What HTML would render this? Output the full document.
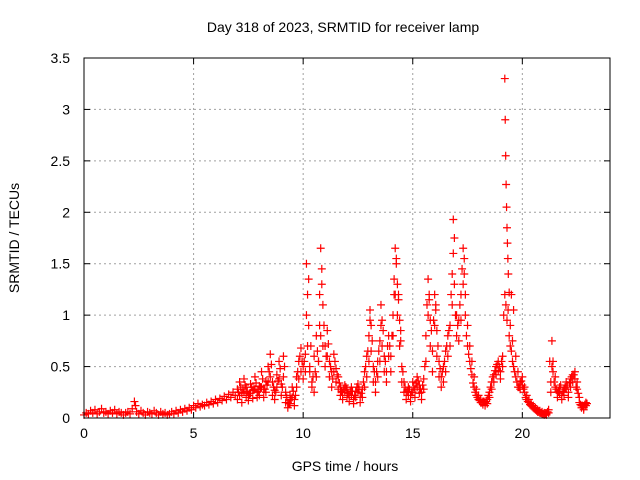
<!DOCTYPE html>
<html><head><meta charset="utf-8"><style>
body{margin:0;background:#fff}
svg{display:block;font-family:"Liberation Sans",sans-serif;font-size:14px}
</style></head><body>
<svg id="chart" width="640" height="480">
<text x="343" y="32" text-anchor="middle">Day 318 of 2023, SRMTID for receiver lamp</text>
<text x="345" y="471" text-anchor="middle">GPS time / hours</text>
<text transform="translate(19,238) rotate(-90)" text-anchor="middle">SRMTID / TECUs</text>
<g id="grid"></g>
<g id="ticks"></g>
<g id="marks"></g>
<rect x="84" y="58" width="526" height="360" fill="none" stroke="#000"/>
</svg>
<script>
const xTicks=[0,5,10,15,20];
const yTicks=[0,0.5,1,1.5,2,2.5,3,3.5];
const yTickLabels=["0","0.5","1","1.5","2","2.5","3","3.5"];
const xs=[0.0,0.1,0.2,0.3,0.4,0.5,0.6,0.7,0.8,0.9,1.0,1.1,1.2,1.3,1.4,1.5,1.6,1.7,1.8,1.9,2.0,2.1,2.2,2.3,2.35,2.4,2.5,2.6,2.7,2.8,2.9,3.0,3.1,3.2,3.3,3.4,3.5,3.6,3.7,3.8,3.9,4.0,4.1,4.2,4.3,4.4,4.5,4.6,4.7,4.8,4.9,5.0,5.1,5.2,5.3,5.4,5.5,5.6,5.7,5.8,5.9,6.0,6.1,6.2,6.3,6.4,6.5,6.6,6.7,6.8,6.9,7.0,7.1,7.2,7.3,7.4,7.5,7.6,7.7,7.8,7.9,8.0,8.1,8.2,8.3,8.4,8.5,8.6,8.7,8.8,8.9,9.0,9.1,9.2,9.3,9.4,9.5,9.6,9.7,9.8,9.9,10.0,10.1,10.15,10.2,10.25,10.3,10.4,10.5,10.6,10.7,10.75,10.8,10.85,10.9,11.0,11.1,11.2,11.3,11.4,11.5,11.6,11.7,11.8,11.9,12.0,12.1,12.2,12.3,12.4,12.5,12.6,12.7,12.8,12.9,13.0,13.05,13.1,13.2,13.3,13.4,13.5,13.55,13.6,13.7,13.8,13.9,14.0,14.1,14.15,14.2,14.25,14.3,14.35,14.4,14.45,14.5,14.6,14.7,14.8,14.9,15.0,15.1,15.2,15.3,15.4,15.5,15.6,15.7,15.75,15.8,15.9,16.0,16.05,16.1,16.2,16.3,16.4,16.5,16.6,16.7,16.8,16.85,16.9,17.0,17.1,17.2,17.3,17.35,17.4,17.5,17.6,17.7,17.8,17.9,18.0,18.1,18.2,18.3,18.4,18.5,18.6,18.7,18.8,18.9,19.0,19.1,19.2,19.22,19.24,19.26,19.28,19.3,19.32,19.34,19.36,19.4,19.45,19.5,19.55,19.6,19.7,19.8,19.9,20.0,20.1,20.2,20.3,20.4,20.5,20.6,20.7,20.8,20.9,21.0,21.1,21.2,21.3,21.35,21.4,21.5,21.6,21.7,21.8,21.9,22.0,22.1,22.2,22.3,22.4,22.5,22.6,22.7,22.8,22.9];
const ys=[.03,.05,.04,.07,.05,.08,.04,.06,.09,.05,.06,.04,.07,.05,.08,.04,.06,.05,.03,.05,.06,.04,.09,.16,.12,.06,.04,.07,.05,.03,.06,.05,.04,.07,.05,.03,.06,.04,.05,.03,.04,.06,.04,.07,.05,.08,.06,.09,.07,.10,.08,.12,.10,.14,.11,.13,.12,.15,.13,.16,.14,.18,.15,.19,.17,.21,.18,.23,.20,.25,.22,.28,.35,.24,.38,.30,.22,.33,.27,.40,.25,.31,.45,.28,.36,.50,.62,.35,.27,.42,.55,.33,.60,.25,.15,.22,.30,.18,.40,.55,.68,.50,.62,1.5,1.2,.9,.45,.35,.60,.80,.55,1.2,1.65,1.45,1.1,.70,.85,.55,.45,.62,.48,.40,.30,.25,.32,.28,.22,.30,.18,.26,.33,.20,.28,.45,.60,.80,1.05,.90,.50,.35,.55,.75,1.1,.95,.60,.45,.80,.60,1.0,1.35,1.65,1.55,1.30,1.15,.95,.75,.50,.35,.25,.30,.22,.35,.28,.40,.32,.25,.38,.80,1.35,1.15,.95,.65,1.2,1.05,.85,.55,.40,.50,.65,.80,.90,1.4,1.93,1.75,1.0,.95,1.2,1.65,1.55,1.2,.90,.70,.55,.40,.28,.22,.18,.16,.15,.18,.25,.35,.42,.50,.55,.45,.60,3.3,2.9,2.55,2.27,2.05,1.85,1.7,1.55,1.4,1.22,.9,1.2,.75,1.05,.6,.45,.35,.40,.30,.22,.18,.14,.12,.10,.08,.07,.06,.05,.04,.08,.35,.75,.55,.40,.25,.30,.22,.28,.35,.25,.38,.42,.45,.35,.20,.12,.10,.15];
const loStart=7.0, loStep=0.1;
const lo=[.18,.22,.15,.25,.20,.17,.24,.19,.28,.20,
.22,.30,.20,.25,.35,.40,.22,.18,.30,.38,
.22,.40,.15,.10,.14,.20,.12,.30,.38,.45,
.38,.45,.70,.50,.30,.25,.40,.55,.80,.70,
.50,.60,.40,.30,.45,.35,.28,.22,.18,.25,
.20,.16,.22,.14,.20,.25,.15,.20,.30,.40,
.55,.65,.35,.25,.40,.55,.70,.45,.35,.60,
.45,.80,1.20,1.00,.70,.35,.25,.18,.22,.16,
.25,.20,.30,.24,.18,.28,.55,1.00,.70,.45,
.90,.60,.40,.30,.35,.45,.60,.70,1.10,1.30,
.80,.75,.95,1.30,1.00,.70,.55,.42,.30,.22,
.18,.15,.13,.12,.14,.20,.28,.35,.42,.46,
.38,.50,1.20,.95,.80,.65,.50,.40,.30,.28,
.32,.25,.18,.15,.12,.10,.08,.06,.05,.04,
.03,.03,.05,.25,.45,.30,.20,.24,.18,.22,
.28,.20,.30,.35,.38,.28,.15,.10,.08,.12];
const midStart=7.05, midStep=0.1;
const mid=[.25,.30,.28,.32,.26,.24,.30,.28,.34,.26,
.30,.38,.28,.32,.45,.52,.30,.25,.36,.48,
.30,.50,.20,.14,.18,.26,.22,.45,.60,.55,
.55,1.0,1.35,.70,.40,.45,.65,.90,1.30,.90,
.60,.72,.50,.38,.55,.42,.34,.26,.28,.30,
.24,.26,.26,.22,.30,.28,.24,.35,.50,.65,
.95,.75,.45,.45,.65,.90,.85,.55,.70,.70,
.80,1.20,1.50,1.20,.85,.45,.30,.26,.28,.25,
.30,.34,.36,.28,.32,.50,1.10,1.20,.85,.95,
1.10,.70,.48,.45,.55,.70,.85,1.20,1.60,1.00,
.90,1.10,1.45,1.40,.80,.62,.48,.34,.25,.20,
.17,.15,.16,.16,.22,.30,.40,.46,.52,.50,
.55,1.00,1.10,1.05,.70,.55,.45,.35,.30,.36,
.28,.20,.16,.13,.11,.09,.07,.06,.05,.04,
.04,.06,.55,.50,.35,.28,.26,.32,.26,.30,
.32,.34,.40,.42,.30,.24,.13,.12,.13,.14];

const L=84,R=610,T=58,B=418,xMax=24,yMax=3.5;
const xS=v=>L+(v/xMax)*(R-L);
const yS=v=>B-(v/yMax)*(B-T);
const NS="http://www.w3.org/2000/svg";
function mk(tag,attrs,parent){const e=document.createElementNS(NS,tag);for(const k in attrs)e.setAttribute(k,attrs[k]);parent.appendChild(e);return e;}
const grid=document.getElementById('grid'),ticks=document.getElementById('ticks'),marks=document.getElementById('marks');
xTicks.forEach(t=>{
  const x=xS(t);
  if(t>0){const g=mk('line',{x1:x,x2:x,y1:T,y2:B,stroke:'#a0a0a0','stroke-dasharray':'2,3'},grid);
  
  }
  mk('line',{x1:x,x2:x,y1:B,y2:B-6,stroke:'#000'},ticks);
  mk('line',{x1:x,x2:x,y1:T,y2:T+6,stroke:'#000'},ticks);
  const tx=mk('text',{x:x,y:B+20,'text-anchor':'middle'},ticks);tx.textContent=String(t);
  
  
});
yTicks.forEach((t,i)=>{
  const y=yS(t);
  if(t>0&&t<yMax){const g=mk('line',{x1:L,x2:R,y1:y,y2:y,stroke:'#a0a0a0','stroke-dasharray':'2,3'},grid);
  
  }
  mk('line',{x1:L,x2:L+6,y1:y,y2:y,stroke:'#000'},ticks);
  mk('line',{x1:R,x2:R-6,y1:y,y2:y,stroke:'#000'},ticks);
  const tx=mk('text',{x:70,y:y+5,'text-anchor':'end'},ticks);tx.textContent=yTickLabels[i];
  
  
});
function plus(x,y){
  const p=mk('path',{d:`M${x-4},${y}h8M${x},${y-4}v8`,stroke:'#ff0000','stroke-width':1.2,fill:'none'},marks);
  
  
}
xs.forEach((v,i)=>plus(xS(v),yS(ys[i])));
lo.forEach((v,i)=>plus(xS(loStart+i*loStep),yS(v)));
mid.forEach((v,i)=>plus(xS(midStart+i*midStep),yS(v)));
</script>
</body></html>
